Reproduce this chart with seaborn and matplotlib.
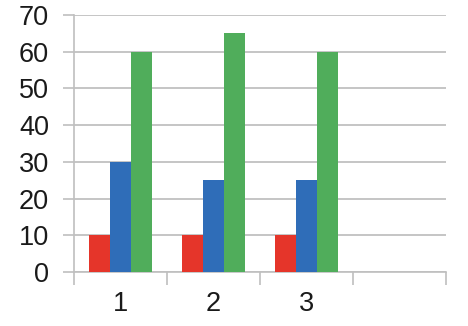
import matplotlib
matplotlib.use("Agg")
import matplotlib.pyplot as plt
import seaborn as sns
import pandas as pd

categories = ["1", "2", "3"]
series_names = ["A", "B", "C"]
red_vals = [10, 10, 10]
blue_vals = [30, 25, 25]
green_vals = [60, 65, 60]
colors = ["#E5352A", "#2F6DB8", "#50AD5B"]
yticks = [0, 10, 20, 30, 40, 50, 60, 70]

rows = []
for name, vals in zip(series_names, [red_vals, blue_vals, green_vals]):
    for c, v in zip(categories, vals):
        rows.append({"cat": c, "series": name, "value": v})
df = pd.DataFrame(rows)

sns.set_theme(style="white")
plt.rcParams["font.family"] = ["Liberation Sans", "DejaVu Sans"]

fig = plt.figure(figsize=(4.68, 3.26), dpi=100)
ax = fig.add_axes([74/468, 1-272/326, (446-74)/468, (272-15)/326])

sns.barplot(data=df, x="cat", y="value", hue="series", order=categories,
            hue_order=series_names, palette=colors, width=0.68, gap=0,
            saturation=1, legend=False, ax=ax, zorder=3, edgecolor="none")

ax.set_xlim(-0.5, 3.5)
ax.set_ylim(0, 70)
ax.set_yticks(yticks)
ax.set_yticklabels([str(t) for t in yticks], fontsize=19.5, color="#1a1a1a")
ax.set_xticks([0, 1, 2])
ax.set_xticklabels(categories, fontsize=19.5, color="#1a1a1a")
ax.set_xticks([-0.5, 0.5, 1.5, 2.5, 3.5], minor=True)
ax.tick_params(axis="x", which="major", length=0, pad=14)
ax.tick_params(axis="x", which="minor", length=9, width=1.2, color="#BFBFBF", bottom=True)
ax.tick_params(axis="y", which="major", length=8, width=1.2, color="#BFBFBF", left=True, pad=10)
ax.yaxis.grid(True, color="#C0C0C0", linewidth=1.3, zorder=0)
ax.set_axisbelow(True)
ax.set_xlabel("")
ax.set_ylabel("")
for s in ["top", "right"]:
    ax.spines[s].set_visible(False)
for s in ["left", "bottom"]:
    ax.spines[s].set_color("#BFBFBF")
    ax.spines[s].set_linewidth(1.2)

fig.savefig("out.png", dpi=100)
